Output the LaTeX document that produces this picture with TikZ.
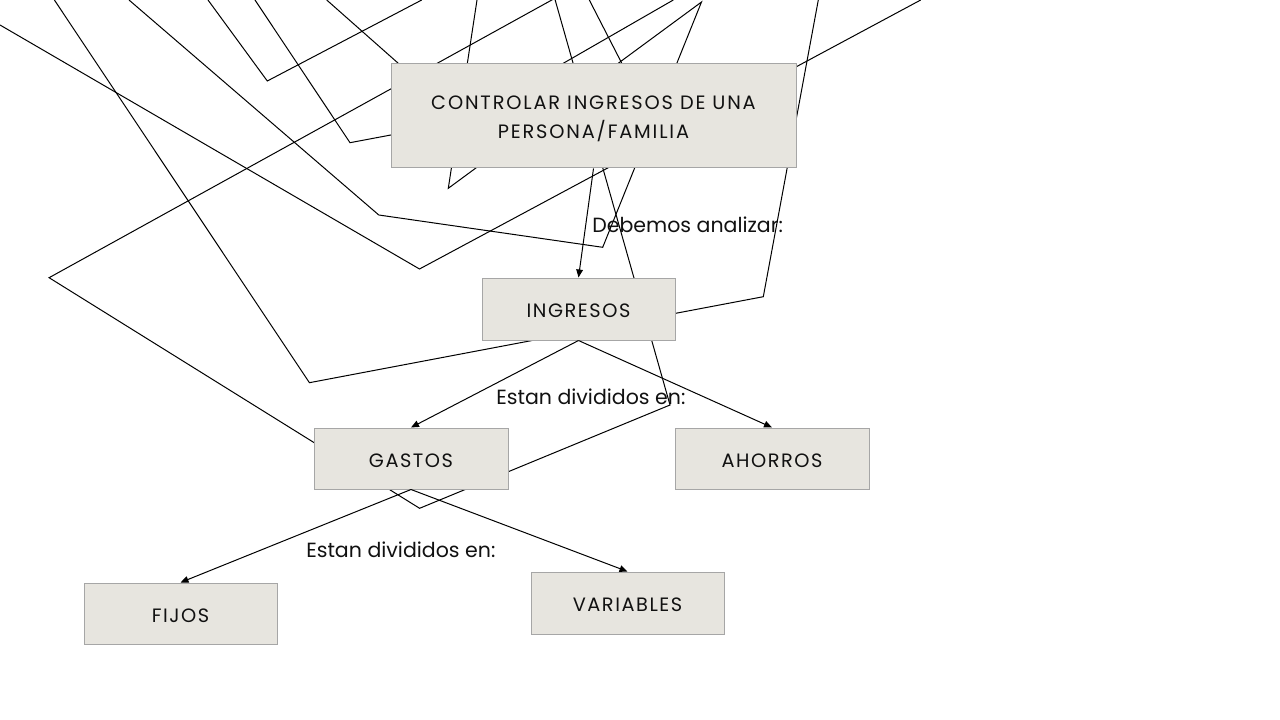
\documentclass[tikz,border=0pt]{standalone}
\usepackage{fontspec}
\setmainfont{Poppins}
\newfontfamily\boxfont[LetterSpace=8]{Poppins}
\usetikzlibrary{arrows.meta}
\definecolor{boxfill}{HTML}{E7E5DF}
\definecolor{boxline}{HTML}{A6A6A6}
\definecolor{ink}{HTML}{111111}
\tikzset{
  stray/.style={line width=0.75pt, black, line join=miter},
  box/.style={draw=boxline, fill=boxfill, line width=0.75pt, inner sep=0pt,
    align=center, text=ink, text height=13.4pt,
    font=\boxfont\fontsize{14.5}{21.75}\selectfont},
  conn/.style={line width=0.75pt, black, -{Triangle[length=6pt,width=5pt]}},
  lbl/.style={inner sep=0pt, text=ink, font=\fontsize{15.4}{18}\selectfont}
}
\begin{document}
\begin{tikzpicture}[x=0.75pt,y=-0.75pt]
\useasboundingbox (0,0) rectangle (1280,720);
\begin{scope}
\clip (0,0) rectangle (1280,720);
% decorative stray lines (behind boxes)
\draw[stray] (0,25) -- (419.5,269) -- (920.7,0);
\draw[stray] (54.4,0) -- (309.4,382.7) -- (763.3,296.7) -- (818.3,0);
\draw[stray] (129,0) -- (378.8,215) -- (602.7,247.3) -- (701.5,2) -- (448.3,188.3) -- (477,0);
\draw[stray] (208,0) -- (267.3,81) -- (421.7,0);
\draw[stray] (255,0) -- (350,142.7) -- (635,89) -- (589.3,0);
\draw[stray] (326.7,0) -- (463.3,120.8) -- (673.3,0);
\draw[stray] (554.7,-1.6) -- (670,405) -- (419.6,508.3) -- (49.1,277.7) -- cycle;
\end{scope}
% boxes
\node[box, text height=35.6pt, font=\boxfont\addfontfeature{LetterSpace=9.5}\fontsize{14.5}{21.75}\selectfont,
  minimum width={405*0.75pt}, minimum height={104*0.75pt}] (top) at (593.5,116)
  {CONTROLAR INGRESOS DE UNA\\PERSONA/FAMILIA};
\node[box, minimum width={193*0.75pt}, minimum height={62*0.75pt}] (ing) at (578.5,309) {INGRESOS};
\node[box, minimum width={194*0.75pt}, minimum height={61*0.75pt}] (gas) at (411,458.5) {GASTOS};
\node[box, minimum width={194*0.75pt}, minimum height={61*0.75pt}] (aho) at (772,458.5) {AHORROS};
\node[box, minimum width={193*0.75pt}, minimum height={61*0.75pt}] (fij) at (180.5,613.5) {FIJOS};
\node[box, minimum width={193*0.75pt}, minimum height={62*0.75pt}] (var) at (627.5,603) {VARIABLES};
% connectors
\draw[conn] (top.south) -- (ing.north);
\draw[conn] (ing.south) -- (gas.north);
\draw[conn] (ing.south) -- (aho.north);
\draw[conn] (gas.south) -- (fij.north);
\draw[conn] (gas.south) -- (var.north);
% labels
\node[lbl, anchor=west] (l1) at (592,225) {Debemos analizar:};
\node[lbl, anchor=west] (l2) at (496,397) {Estan divididos en:};
\node[lbl, anchor=west] (l3) at (306,550) {Estan divididos en:};
\end{tikzpicture}
\end{document}
